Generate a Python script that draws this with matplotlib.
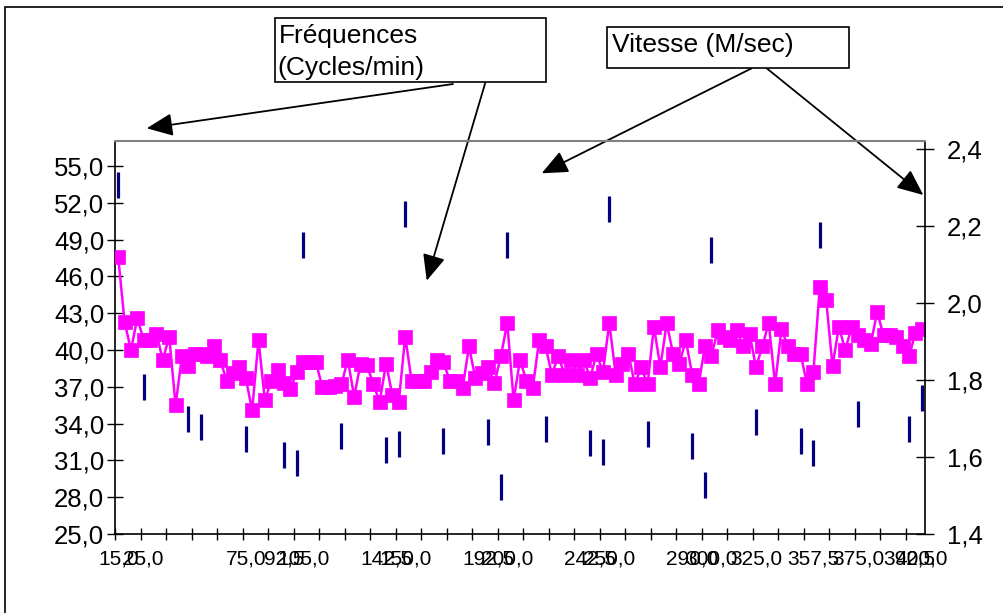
import matplotlib.pyplot as plt
from matplotlib.patches import Rectangle

plt.rcParams['font.family'] = ['Liberation Sans', 'DejaVu Sans']

W, H = 1004, 613

# Fréquences (cycles/min), une valeur par ligne du tableau
freq = [47.6, 42.3, 40.0, 42.6, 40.8, 40.8, 41.3, 39.2, 41.1, 35.5,
        39.5, 38.7, 39.7, 39.7, 39.5, 40.3, 39.2, 37.5, 38.1, 38.6,
        37.7, 35.1, 40.8, 35.9, 37.5, 38.4, 37.3, 36.8, 38.2, 39.0,
        39.0, 39.0, 37.0, 37.0, 37.1, 37.2, 39.2, 36.2, 38.9, 38.8,
        37.2, 35.8, 38.9, 36.3, 35.8, 41.1, 37.5, 37.5, 37.5, 38.2,
        39.2, 39.0, 37.5, 37.5, 36.9, 40.3, 37.7, 38.1, 38.6, 37.3,
        39.5, 42.2, 35.9, 39.2, 37.5, 36.9, 40.8, 40.3, 38.0, 39.5,
        38.0, 39.2, 38.0, 39.2, 37.7, 39.7, 38.2, 42.2, 38.0, 38.9,
        39.7, 37.2, 38.6, 37.2, 41.9, 38.6, 42.2, 39.7, 38.9, 40.8,
        38.0, 37.2, 40.3, 39.5, 41.6, 41.1, 40.8, 41.6, 40.3, 41.3,
        38.6, 40.3, 42.2, 37.2, 41.7, 40.3, 39.7, 39.7, 37.2, 38.2,
        45.1, 44.1, 38.7, 41.9, 40.0, 41.9, 41.2, 40.8, 40.5, 43.1,
        41.2, 41.2, 41.1, 40.3, 39.5, 41.4, 41.7]

# Vitesse (M/sec), seulement sur certaines lignes
vit_rows = [0, 4, 11, 13, 20, 26, 28, 29, 35, 42, 44, 45, 51, 58, 60, 61,
            67, 74, 76, 77, 83, 90, 92, 93, 100, 107, 109, 110, 116, 124, 126]
vit_vals = [2.307, 1.781, 1.698, 1.678, 1.648, 1.606, 1.584, 2.150, 1.654,
            1.618, 1.634, 2.231, 1.641, 1.666, 1.521, 2.150, 1.673, 1.636,
            1.614, 2.245, 1.659, 1.630, 1.528, 2.139, 1.691, 1.642, 1.611,
            2.176, 1.711, 1.673, 1.753]

# Etiquettes de l'axe des x (lignes où elles apparaissent)
label_rows = [0, 4, 20, 26, 29, 42, 45, 58, 61, 74, 77, 90, 93, 100, 109,
              116, 124, 126]
label_text = ['15,0', '25,0', '75,0', '92,5', '105,0', '142,5', '150,0',
              '192,5', '200,0', '242,5', '250,0', '290,0', '300,0', '325,0',
              '357,5', '375,0', '392,5', '400,0']

left_ticks = [25, 28, 31, 34, 37, 40, 43, 46, 49, 52, 55]
right_ticks = [1.4, 1.6, 1.8, 2.0, 2.2, 2.4]


def fr(x, y):  # pixels (origine en haut à gauche) -> fraction de figure
    return x / W, 1 - y / H


def virgule(v):
    return ('%.1f' % v).replace('.', ',')


fig = plt.figure(figsize=(W / 100, H / 100), dpi=100)
ax = fig.add_axes([115 / W, 1 - 534 / H, 810 / W, 393 / H])
ax2 = ax.twinx()

n = len(freq)
ax.plot(range(n), freq, color='#FF00FF', lw=1.8, marker='s', ms=10.5,
        mec='#FF00FF', mew=0.5, zorder=3)
ax2.plot(vit_rows, vit_vals, ls='none', marker='|', ms=18.5, mew=2.3,
         color='#000080')

ax.set_xlim(-0.5, n - 0.5)
ax.set_ylim(25, 57.04)
ax2.set_ylim(1.4, 2.4216)

ax.set_yticks(left_ticks)
ax.set_yticklabels([virgule(v) for v in left_ticks], fontsize=18.5)
ax.tick_params(axis='y', direction='inout', length=11.5, width=1, pad=2)
ax2.set_yticks(right_ticks)
ax2.set_yticklabels([virgule(v) for v in right_ticks], fontsize=18.5)
ax2.tick_params(axis='y', direction='inout', length=13, width=1, pad=9)

ax.set_xticks(label_rows)
ax.set_xticklabels(label_text, fontsize=15)
ax.set_xticks([i - 0.5 for i in range(0, n, 4)], minor=True)
ax.tick_params(axis='x', which='major', length=0, pad=11)
ax.tick_params(axis='x', which='minor', direction='inout', length=8.5, width=1)

for s in ['top', 'right']:
    ax.spines[s].set_visible(False)
for s in ['left', 'bottom']:
    ax2.spines[s].set_visible(False)
ax2.spines['top'].set_color('#808080')
ax2.spines['top'].set_linewidth(1.5)
ax2.spines['right'].set_linewidth(1.2)
ax.spines['left'].set_linewidth(1.2)
ax.spines['bottom'].set_linewidth(1.2)

# cadre extérieur
fig.add_artist(Rectangle(fr(5, 625), 1010 / W, 618 / H, transform=fig.transFigure,
                         fill=False, ec='black', lw=1.2))

# boîtes de texte
x0, y0 = fr(275, 82)
fig.add_artist(Rectangle((x0, y0), 271 / W, 64 / H, transform=fig.transFigure,
                         fill=True, fc='white', ec='black', lw=1.2))
fig.text(*fr(279, 43), 'Fréquences', fontsize=19, va='baseline')
fig.text(*fr(277, 75), '(Cycles/min)', fontsize=19, va='baseline')

x0, y0 = fr(607, 68)
fig.add_artist(Rectangle((x0, y0), 242 / W, 41 / H, transform=fig.transFigure,
                         fill=True, fc='white', ec='black', lw=1.2))
fig.text(*fr(612, 52), 'Vitesse (M/sec)', fontsize=19, va='baseline')

# flèches
fleches = [((453, 84), (146.7, 128.3)),
           ((487, 77), (426.7, 280.7)),
           ((751.7, 68.3), (541.7, 173.3)),
           ((766.7, 68.3), (923.3, 195))]
for debut, fin in fleches:
    ax.annotate('', xy=fr(*fin), xytext=fr(*debut), xycoords='figure fraction',
                textcoords='figure fraction', annotation_clip=False,
                arrowprops=dict(arrowstyle='-|>,head_length=0.8,head_width=0.35',
                                mutation_scale=20, color='black', lw=1.3,
                                shrinkA=0, shrinkB=0))

fig.savefig('out.png', dpi=100)
